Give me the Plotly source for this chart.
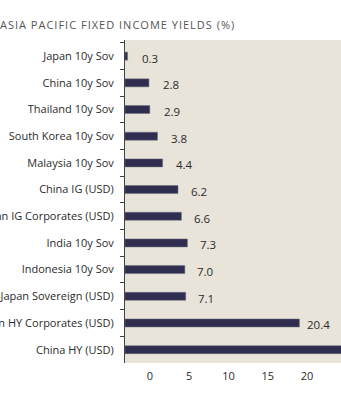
import plotly.graph_objects as go

categories = [
    "Japan 10y Sov",
    "China 10y Sov",
    "Thailand 10y Sov",
    "South Korea 10y Sov",
    "Malaysia 10y Sov",
    "China IG (USD)",
    "Asian IG Corporates (USD)",
    "India 10y Sov",
    "Indonesia 10y Sov",
    "Asia ex-Japan Sovereign (USD)",
    "Asian HY Corporates (USD)",
    "China HY (USD)",
]
values = [0.3, 2.8, 2.9, 3.8, 4.4, 6.2, 6.6, 7.3, 7.0, 7.1, 20.4, 30.0]
tick_values = [0, 5, 10, 15, 20]
title_text = "ASIA PACIFIC FIXED INCOME YIELDS (%)"

FONT = "Open Sans"
TXT = "#2b2b2b"
BAR = "#2f2e50"
BG = "#e8e4da"

ML, PW = 125, 216  # left margin, plot width (px)

fig = go.Figure()
fig.add_trace(go.Bar(
    x=values, y=categories, orientation="h",
    width=0.3,
    marker=dict(color=BAR, line=dict(color="#6e6e80", width=0.5)),
    hoverinfo="skip", showlegend=False,
))
# carrier for the tick-label axis (draws nothing)
fig.add_trace(go.Scatter(
    x=tick_values, y=[categories[0]] * len(tick_values),
    xaxis="x2", yaxis="y", mode="none",
    hoverinfo="skip", showlegend=False,
))

annotations = []
for c, v in zip(categories, values):
    annotations.append(dict(
        x=v, y=c, xref="x", yref="y", text=f"{v:.1f}",
        xanchor="left", yanchor="middle", showarrow=False,
        xshift=13 - 0.35 * v, yshift=-2,
        font=dict(family=FONT, size=11.5, color=TXT),
    ))

annotations.append(dict(
    x=(-2 - ML) / PW, y=1 + 16 / 323, xref="paper", yref="paper",
    xanchor="left", yanchor="middle", align="left", showarrow=False,
    text=title_text, font=dict(family=FONT, size=11, color="#555557"),
))

fig.update_layout(
    width=341, height=400,
    margin=dict(l=ML, r=0, t=40, b=37, pad=0),
    paper_bgcolor="white", plot_bgcolor=BG,
    font=dict(family=FONT, color=TXT),
    bargap=0.7,
    xaxis=dict(range=[0, PW / 8.55], visible=False, fixedrange=True),
    xaxis2=dict(
        overlaying="x", anchor="y", side="bottom",
        range=[-25 / 7.85, (PW - 25) / 7.85],
        tickmode="array", tickvals=tick_values,
        ticktext=[str(t) for t in tick_values],
        showgrid=False, zeroline=False, showline=False, ticks="",
        ticklabelstandoff=5, automargin=False,
        tickfont=dict(family=FONT, size=11, color=TXT),
    ),
    yaxis=dict(
        type="category", categoryorder="array", categoryarray=categories,
        autorange="reversed", tickson="boundaries",
        ticks="outside", ticklen=4, tickcolor="#444", tickwidth=1,
        showline=True, linecolor="#444", linewidth=1,
        showgrid=False, zeroline=False, automargin=False,
        ticklabelstandoff=8,
        tickfont=dict(family=FONT, size=11, color=TXT),
    ),
    annotations=annotations,
)

post = """
document.querySelectorAll('.annotation-text').forEach(function(t){
  if (t.textContent.indexOf('ASIA PACIFIC') === 0) {
    t.style.letterSpacing = '1px';
  }
});
"""
fig.write_html("out.html", post_script=post)
